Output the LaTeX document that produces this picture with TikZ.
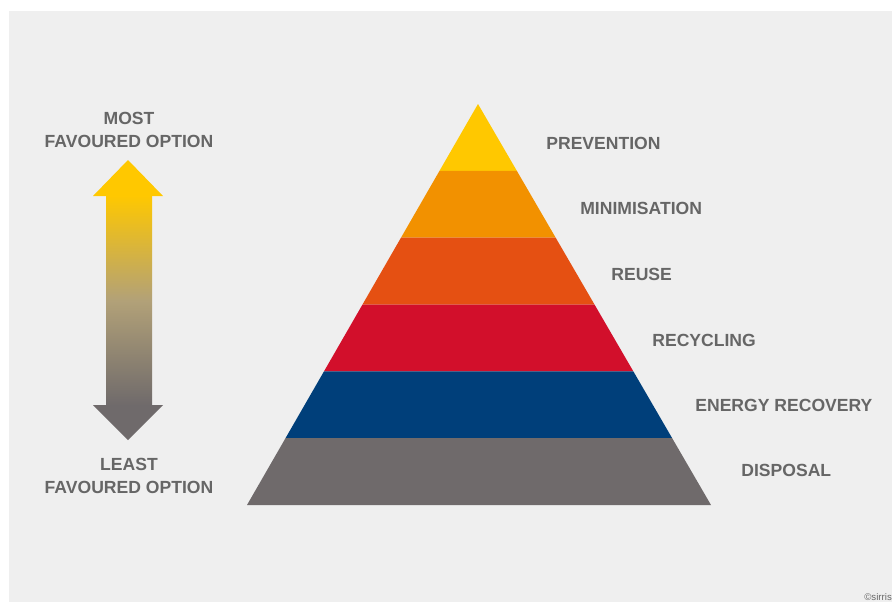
\documentclass[tikz,border=0pt]{standalone}
\usepackage{fontspec}
\setmainfont{Liberation Sans}
\usetikzlibrary{calc, positioning}

\definecolor{bgcol}{HTML}{EFEFEF}
\definecolor{txtcol}{HTML}{666666}
\definecolor{prevcol}{HTML}{FFC800}
\definecolor{mincol}{HTML}{F29100}
\definecolor{reusecol}{HTML}{E55012}
\definecolor{recycol}{HTML}{D20F2B}
\definecolor{energycol}{HTML}{003F7A}
\definecolor{dispcol}{HTML}{6F6A6B}
\definecolor{midcol}{HTML}{B2A178}

\begin{document}
\begin{tikzpicture}
        [
        x=0.02cm, y=-0.02cm,
        every node/.style={text=txtcol, font=\fontsize{10}{13}\selectfont\bfseries, inner sep=0pt},
        level/.style={anchor=west},
        side/.style={align=center}
        ]

        \useasboundingbox (0,0) rectangle (893,603);
        \fill[white] (0,0) rectangle (893,603);
        \fill[bgcol] (9,11) rectangle (892,602);

        % Pyramid
        \coordinate (apex) at (478,104);
        \coordinate (bl) at (247,505);
        \coordinate (br) at (711,505);

        \foreach \col [count=\i, evaluate=\i as \a using (\i-1)/6, evaluate=\i as \b using \i/6] in
                {prevcol, mincol, reusecol, recycol, energycol, dispcol}
            \fill[\col] ($(apex)!\a!(bl)$) -- ($(apex)!\b!(bl)$) -- ($(apex)!\b!(br)$) -- ($(apex)!\a!(br)$) -- cycle;

        \node (prevention) [level] at (546,143) {PREVENTION};
        \node (minimisation) [level] at (580,208) {MINIMISATION};
        \node (reuse) [level] at (611,274) {REUSE};
        \node (recycling) [level] at (652,340) {RECYCLING};
        \node (energy) [level] at (695,405) {ENERGY RECOVERY};
        \node (disposal) [level] at (741,470) {DISPOSAL};

        % Arrow
        \fill[prevcol] (128,160) -- (163,196) -- (93,196) -- cycle;
        \shade[top color=prevcol, bottom color=dispcol, middle color=midcol]
            (106,195.5) rectangle (152,405.5);
        \fill[dispcol] (93,405) -- (163,405) -- (128,440) -- cycle;

        \node (most) [side] at (129,130) {MOST\\FAVOURED OPTION};
        \node (least) [side] at (129,476) {LEAST\\FAVOURED OPTION};

        \node (credit) [anchor=west, font=\fontsize{5.5}{6}\selectfont] at (864,597) {©sirris};

    \end{tikzpicture}
\end{document}
